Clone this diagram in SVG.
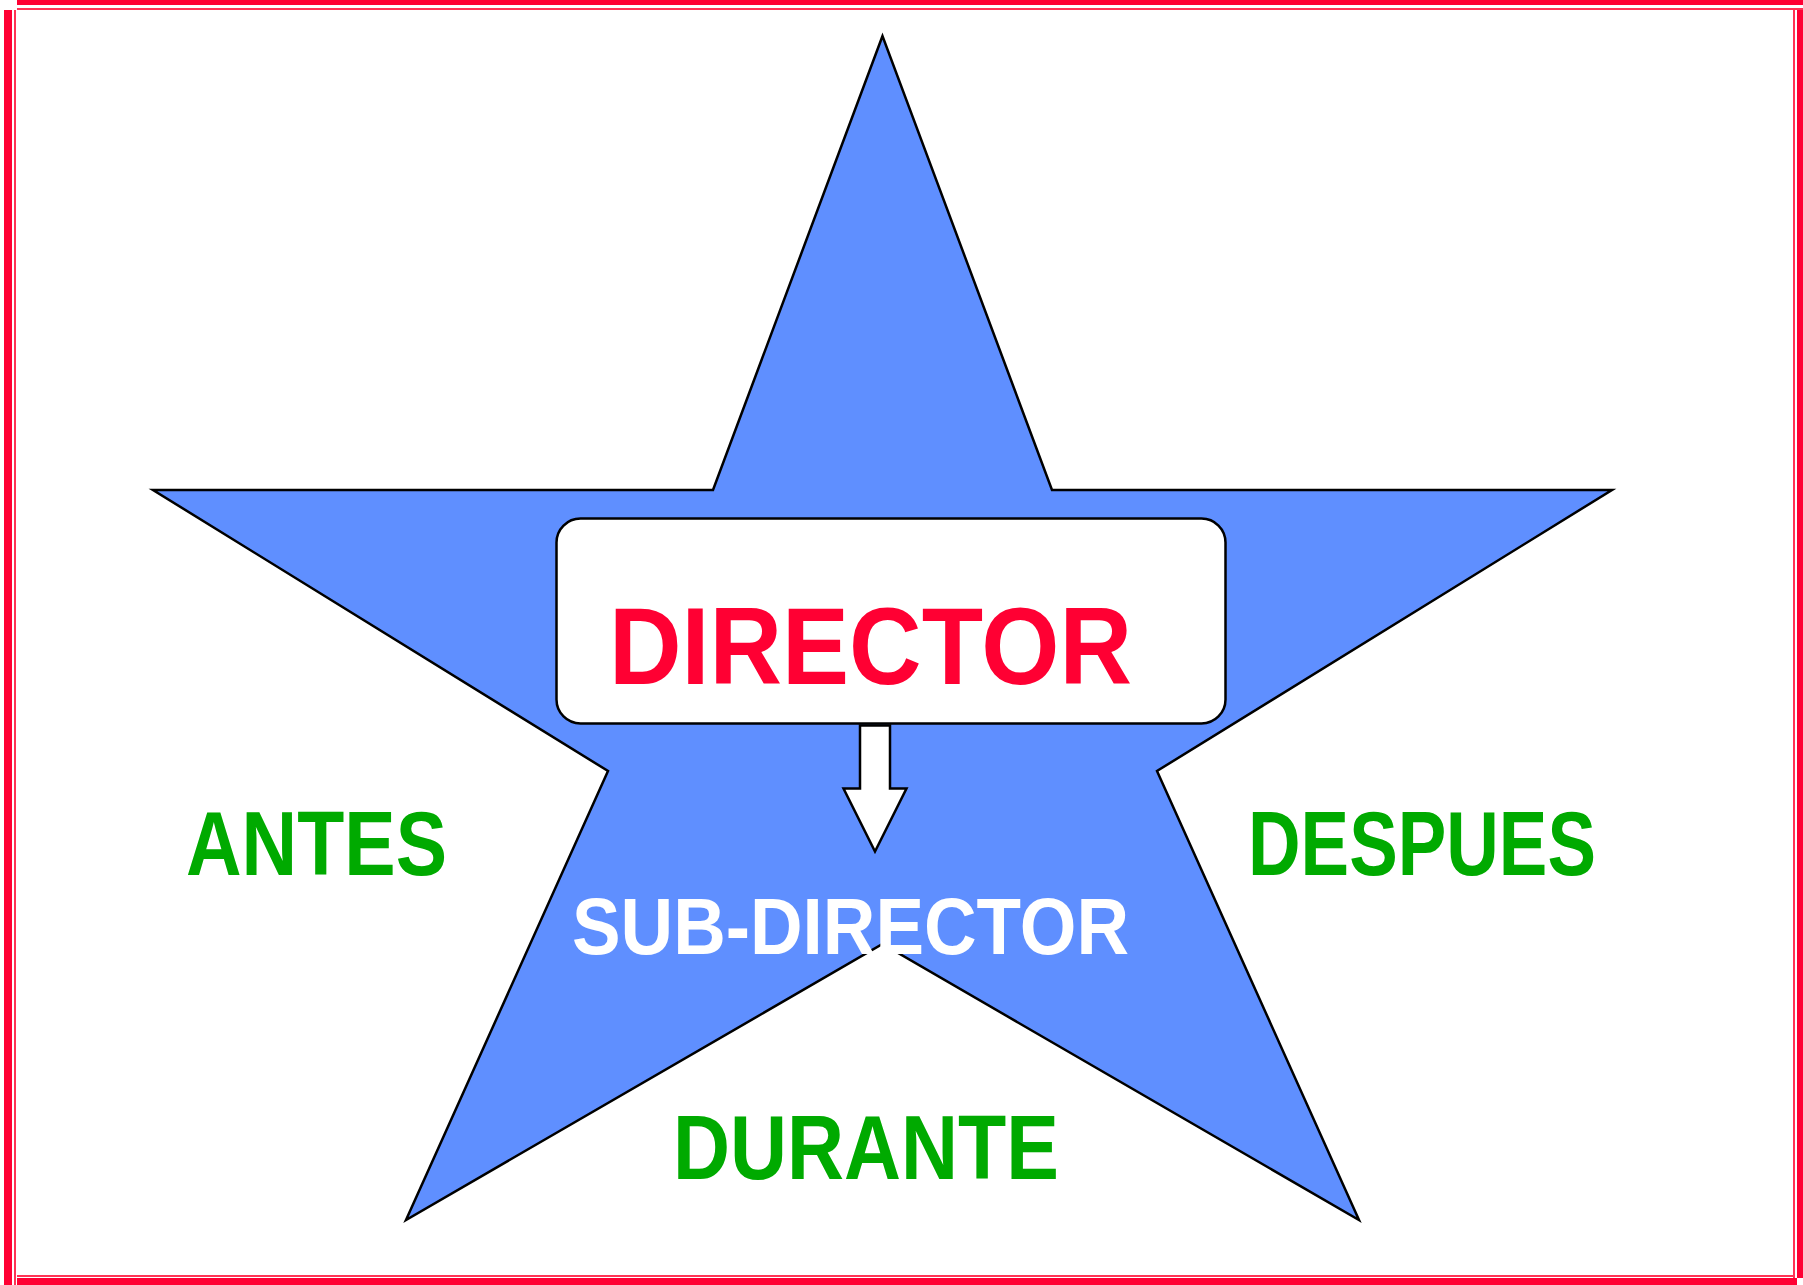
<svg xmlns="http://www.w3.org/2000/svg" width="1803" height="1285" viewBox="0 0 1803 1285">
<style>
.border{fill:#FF0033}
.thin{fill:#FF3355}
.lbl{font-family:"Liberation Sans",Arial,sans-serif;font-weight:bold}
.green{fill:#00AA00;font-size:90px}
</style>
<rect width="1803" height="1285" fill="#FFFFFF"/>
<g id="frame">
<rect class="border" x="17" y="0" width="1786" height="5"/>
<rect class="thin" x="17" y="8" width="1786" height="2"/>
<rect class="border" x="4" y="10" width="8" height="1275"/>
<rect class="thin" x="14" y="10" width="2" height="1275"/>
<rect class="border" x="1797" y="10" width="6" height="1268"/>
<rect class="thin" x="1793" y="10" width="2" height="1268"/>
<rect class="border" x="17" y="1278" width="1780" height="7"/>
<rect class="thin" x="17" y="1275" width="1778" height="2"/>
</g>
<g id="star">
<polygon points="882.5,36 713,490 153,490 608,771 406,1220 882.5,944 1359,1220 1157,771 1612,490 1052,490" fill="#5F8FFF" stroke="#000" stroke-width="2.5" stroke-linejoin="miter"/>
</g>
<g id="director">
<rect x="556.5" y="518.5" width="669" height="205" rx="24" ry="24" fill="#FFFFFF" stroke="#000" stroke-width="2.5"/>
<text class="lbl" x="609" y="684" font-size="109" fill="#FF0033" textLength="523" lengthAdjust="spacingAndGlyphs">DIRECTOR</text>
</g>
<g id="connectors">
<polygon points="860,725.5 890,725.5 890,788.5 906.5,788.5 875,851.5 843.5,788.5 860,788.5" fill="#FFFFFF" stroke="#000" stroke-width="2.5"/>
</g>
<g id="subdirector">
<text class="lbl" x="572" y="954" font-size="80" fill="#FFFFFF" textLength="557" lengthAdjust="spacingAndGlyphs">SUB-DIRECTOR</text>
</g>
<g id="antes">
<text class="lbl green" x="186" y="875" textLength="261" lengthAdjust="spacingAndGlyphs">ANTES</text>
</g>
<g id="despues">
<text class="lbl green" x="1248" y="875" textLength="348" lengthAdjust="spacingAndGlyphs">DESPUES</text>
</g>
<g id="durante">
<text class="lbl green" x="673" y="1179" textLength="386" lengthAdjust="spacingAndGlyphs">DURANTE</text>
</g>
</svg>
